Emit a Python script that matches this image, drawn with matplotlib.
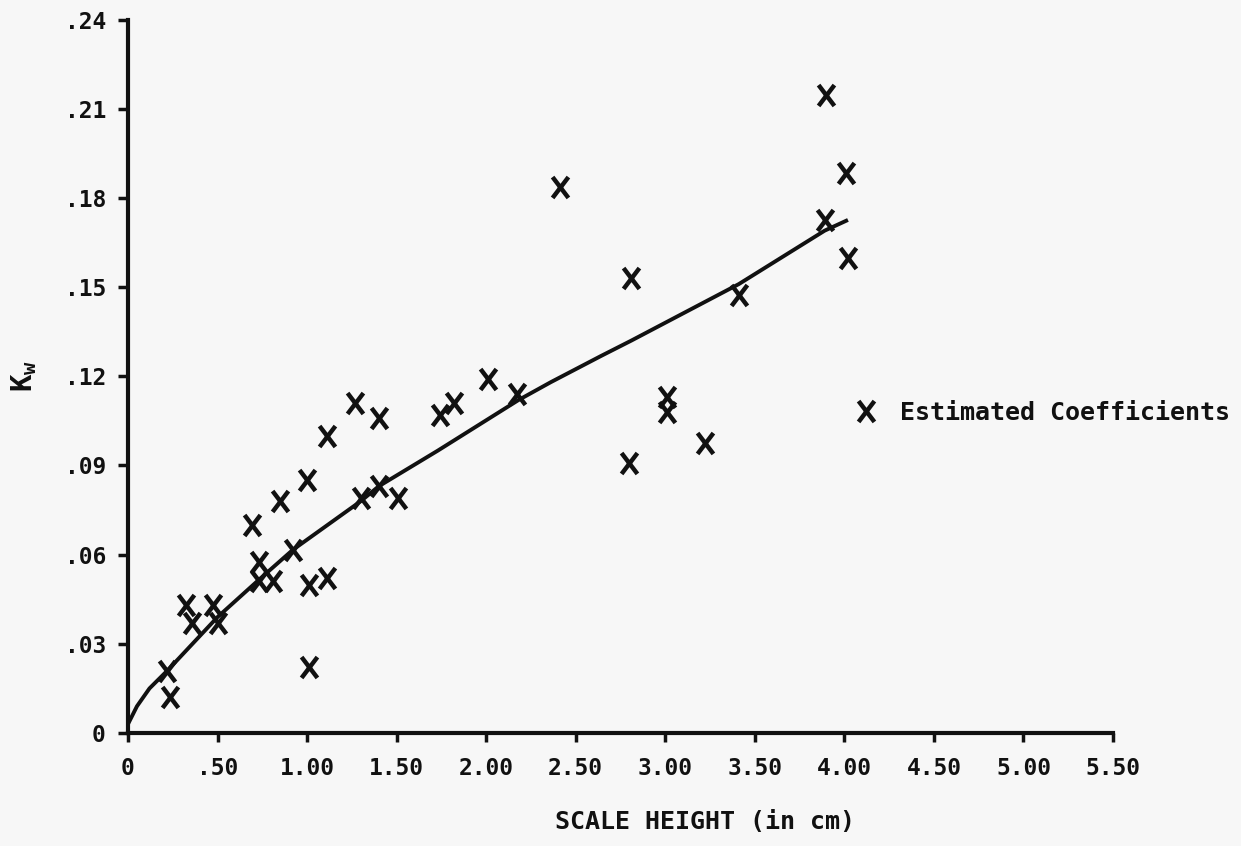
import numpy as np
import matplotlib
matplotlib.use('Agg')
import matplotlib.pyplot as plt
from matplotlib.path import Path

# estimated coefficients (scale height in cm, K_w)
x_coef = [0.22, 0.235, 0.325, 0.36, 0.475, 0.50, 0.69, 0.73, 0.73, 0.81,
          0.85, 0.92, 1.00, 1.01, 1.01, 1.11, 1.11, 1.27, 1.30, 1.40,
          1.40, 1.51, 1.74, 1.82, 2.01, 2.17, 2.41, 2.81, 2.80, 3.01,
          3.01, 3.22, 3.41, 3.90, 4.01, 3.89, 4.02]
y_coef = [0.021, 0.012, 0.043, 0.037, 0.043, 0.037, 0.070, 0.0576, 0.051, 0.051,
          0.078, 0.0616, 0.085, 0.0498, 0.0222, 0.052, 0.100, 0.111, 0.079, 0.106,
          0.083, 0.079, 0.107, 0.111, 0.119, 0.114, 0.1837, 0.153, 0.0908, 0.113,
          0.108, 0.0976, 0.1474, 0.2147, 0.1884, 0.1726, 0.1598]

# fitted curve
x_fit = [0.0, 0.05, 0.12, 0.22, 0.50, 0.73, 0.92, 1.30, 1.40, 1.73, 2.18, 2.36, 2.64, 2.81, 3.41, 3.89, 4.02]
y_fit = [0.003, 0.009, 0.015, 0.021, 0.039, 0.0515, 0.0616, 0.078, 0.083, 0.095, 0.112, 0.118, 0.1268, 0.132, 0.151, 0.169, 0.1726]

x_ticks = [0, 0.5, 1.0, 1.5, 2.0, 2.5, 3.0, 3.5, 4.0, 4.5, 5.0, 5.5]
x_ticklabels = ['0', '.50', '1.00', '1.50', '2.00', '2.50', '3.00', '3.50', '4.00', '4.50', '5.00', '5.50']
y_ticks = [0, 0.03, 0.06, 0.09, 0.12, 0.15, 0.18, 0.21, 0.24]
y_ticklabels = ['0', '.03', '.06', '.09', '.12', '.15', '.18', '.21', '.24']

ink = '#111111'
paper = '#f7f7f7'
font = 'DejaVu Sans Mono'

plt.rcParams['font.family'] = [font]
plt.rcParams['font.weight'] = 'bold'
plt.rcParams['axes.labelweight'] = 'bold'
plt.rcParams['mathtext.fontset'] = 'custom'
plt.rcParams['mathtext.rm'] = font + ':bold'
plt.rcParams['mathtext.it'] = font + ':bold'
plt.rcParams['mathtext.bf'] = font + ':bold'

# typed "X" marker, a bit taller than wide
xm = Path([(-0.38, -0.5), (0.38, 0.5), (-0.38, 0.5), (0.38, -0.5)],
          [Path.MOVETO, Path.LINETO, Path.MOVETO, Path.LINETO])

fig = plt.figure(figsize=(12.41, 8.46), dpi=100, facecolor=paper)
ax = fig.add_axes([128 / 1241, 113 / 846, 985 / 1241, 713.4 / 846])
ax.set_facecolor(paper)

ax.plot(x_fit, y_fit, color=ink, lw=2.8, solid_capstyle='butt')
pts, = ax.plot(x_coef, y_coef, ls='none', marker=xm, ms=15, mew=3.2,
               mec=ink, mfc='none', label='Estimated Coefficients')

ax.set_xlim(0, 5.5)
ax.set_ylim(0, 0.24)
ax.set_xticks(x_ticks)
ax.set_xticklabels(x_ticklabels)
ax.set_yticks(y_ticks)
ax.set_yticklabels(y_ticklabels)

for s in ['top', 'right']:
    ax.spines[s].set_visible(False)
for s in ['left', 'bottom']:
    ax.spines[s].set_linewidth(3)
    ax.spines[s].set_color(ink)

ax.tick_params(axis='x', length=6.5, width=2.5, color=ink, pad=11, labelsize=16.5, labelcolor=ink)
ax.tick_params(axis='y', length=7, width=2.5, color=ink, pad=9, labelsize=16.5, labelcolor=ink)

ax.set_xlabel('SCALE HEIGHT (in cm)', fontsize=18, fontweight='bold', color=ink)
ax.xaxis.set_label_coords(0.586, -0.108)
ax.set_ylabel(r'K$_w$', fontsize=21, fontweight='bold', color=ink)
ax.yaxis.set_label_coords(-0.09, 0.5)

ax.legend(handles=[pts], loc='center left', bbox_to_anchor=(853 / 1241, 1 - 413 / 846),
          bbox_transform=fig.transFigure, frameon=False, fontsize=18,
          handlelength=1, handletextpad=0.9, borderpad=0, borderaxespad=0,
          numpoints=1, labelcolor=ink)

fig.savefig('out.png', dpi=100, facecolor=paper)
